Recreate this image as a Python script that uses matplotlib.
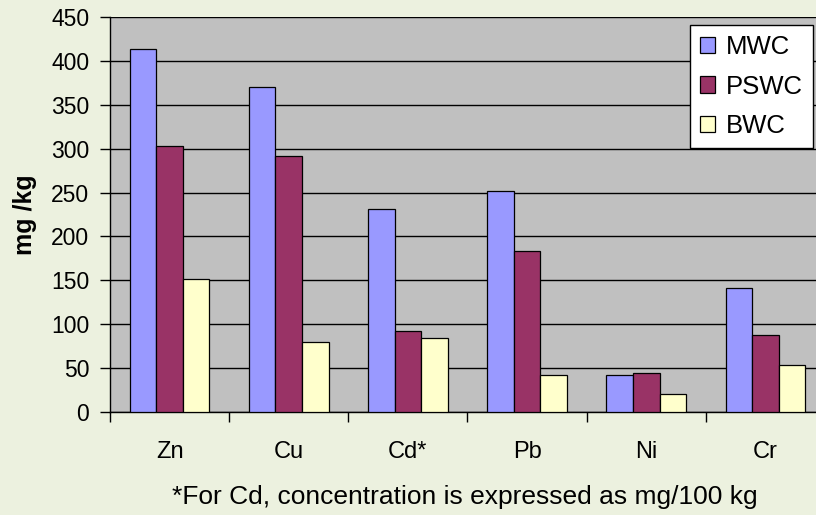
import matplotlib
matplotlib.use("Agg")
import matplotlib.pyplot as plt
import numpy as np

categories = ["Zn", "Cu", "Cd*", "Pb", "Ni", "Cr"]
mwc = [414, 370, 231, 252, 42, 141]
pswc = [303, 292, 92, 183, 44, 88]
bwc = [152, 80, 84, 42, 21, 54]
series_names = ["MWC", "PSWC", "BWC"]
colors = ["#9999FF", "#993366", "#FFFFCC"]
yticks = [0, 50, 100, 150, 200, 250, 300, 350, 400, 450]

plt.rcParams['font.family'] = ['Liberation Sans', 'DejaVu Sans']

fig = plt.figure(figsize=(8.16, 5.15), dpi=100)
fig.patch.set_facecolor("#ECF1DF")
ax = fig.add_axes([110/816, 1-412/515, 715/816, (412-17)/515])
ax.set_facecolor("#C0C0C0")

x = np.arange(len(categories))
w = 0.223
for i, (vals, c, name) in enumerate(zip([mwc, pswc, bwc], colors, series_names)):
    ax.bar(x + (i-1)*w, vals, w, color=c, edgecolor="black", linewidth=0.9, label=name, zorder=3)

ax.set_xlim(-0.5, len(categories)-0.5)
ax.set_ylim(0, 450)
ax.set_yticks(yticks)
ax.yaxis.grid(True, color="black", linewidth=1.0, zorder=1)
ax.set_axisbelow(True)
for s in ["top", "right"]:
    ax.spines[s].set_visible(False)
ax.spines["left"].set_linewidth(1.0)
ax.spines["bottom"].set_linewidth(1.0)
ax.tick_params(axis="y", labelsize=16.5, length=7, width=1, direction="out", pad=8)
ax.set_xticks(np.arange(len(categories)+1) - 0.5, minor=False)
ax.set_xticklabels([])
ax.tick_params(axis="x", length=7, width=1, direction="out")
ax.set_xticks(x, minor=True)
ax.set_xticklabels(categories, minor=True)
ax.tick_params(axis="x", which="minor", length=0, labelsize=17, pad=21)

ax.set_ylabel("mg /kg", fontsize=18, fontweight="bold", labelpad=10)

leg = ax.legend(loc="upper right", bbox_to_anchor=(813/816, 1-25/515), bbox_transform=fig.transFigure,
                fontsize=18.5, frameon=True, fancybox=False, edgecolor="black", framealpha=1,
                handlelength=0.6, handleheight=0.6, handletextpad=0.4, labelspacing=0.6, borderpad=0.4,
                borderaxespad=0)
leg.get_frame().set_linewidth(1.0)

fig.text(465/816, 1-497/515, "*For Cd, concentration is expressed as mg/100 kg", fontsize=19,
         ha="center", va="center")

fig.savefig("out.png", dpi=100, facecolor=fig.get_facecolor())
